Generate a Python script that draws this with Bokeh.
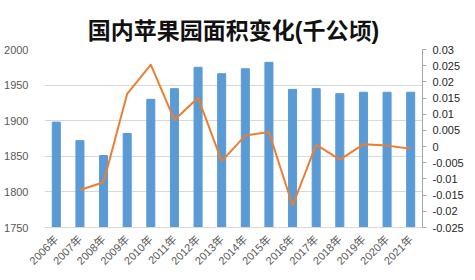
from bokeh.plotting import figure
from bokeh.models import Range1d, LinearAxis, FixedTicker, CustomJSTickFormatter, ColumnDataSource
from bokeh.embed import file_html
from bokeh.resources import INLINE
import math

years = ["2006年", "2007年", "2008年", "2009年", "2010年", "2011年", "2012年", "2013年",
         "2014年", "2015年", "2016年", "2017年", "2018年", "2019年", "2020年", "2021年"]
area = [1898, 1872, 1851, 1882, 1930, 1945, 1975, 1966, 1973, 1982, 1944, 1945, 1938, 1940, 1940, 1940]
growth_years = years[1:]
growth = [-0.0134, -0.0110, 0.0163, 0.0253, 0.0082, 0.0151, -0.0045, 0.0034, 0.0045,
          -0.0182, 0.0006, -0.0040, 0.0007, 0.0003, -0.0007]
left_ticks = [1750, 1800, 1850, 1900, 1950, 2000]
right_ticks = [-0.025, -0.02, -0.015, -0.01, -0.005, 0, 0.005, 0.01, 0.015, 0.02, 0.025, 0.03]

FONT = "Liberation Sans, Noto Sans CJK SC"
GREY = "#595959"

p = figure(width=475, height=280, x_range=years, y_range=Range1d(1750, 2000),
           output_backend="svg", toolbar_location=None,
           min_border_left=44, min_border_right=53, min_border_top=49, min_border_bottom=53)
p.title.text = "国内苹果园面积变化(千公顷)"
p.title.align = "center"
p.title.text_font = "Liberation Sans, Noto Sans CJK SC"
p.title.text_font_size = "23px"
p.title.text_font_style = "bold"
p.title.text_color = "#111111"
p.title.standoff = 12
p.outline_line_color = None

p.extra_y_ranges = {"g": Range1d(-0.025, 0.03)}

src = ColumnDataSource(dict(x=years, y=area))
p.vbar(x="x", top="y", bottom=1750, width=0.34, source=src, color="#5b9bd5")
p.line(x=growth_years, y=growth, y_range_name="g", line_color="#ed7d31", line_width=2)

p.xgrid.grid_line_color = None
p.ygrid.grid_line_color = "#d9d9d9"
p.yaxis.ticker = FixedTicker(ticks=left_ticks)
p.yaxis.axis_line_color = None
p.yaxis.major_tick_line_color = None
p.yaxis.minor_tick_line_color = None
p.yaxis.major_label_standoff = 10
p.yaxis.major_label_text_font = FONT
p.yaxis.major_label_text_font_size = "11px"
p.yaxis.major_label_text_color = GREY

p.xaxis.axis_line_color = "#d9d9d9"
p.xaxis.major_tick_line_color = None
p.xaxis.minor_tick_line_color = None
p.xaxis.major_label_orientation = math.pi / 4
p.xaxis.major_label_standoff = 4
p.xaxis.major_label_text_font = FONT
p.xaxis.major_label_text_font_size = "11px"
p.xaxis.major_label_text_color = GREY

ra = LinearAxis(y_range_name="g", ticker=FixedTicker(ticks=right_ticks),
                formatter=CustomJSTickFormatter(code="return String(parseFloat(tick.toFixed(3)));"))
ra.axis_line_color = "#a6a6a6"
ra.major_tick_line_color = "#a6a6a6"
ra.major_tick_in = 0
ra.major_tick_out = 4
ra.minor_tick_line_color = None
ra.major_label_standoff = 6
ra.major_label_text_font = FONT
ra.major_label_text_font_size = "11px"
ra.major_label_text_color = "#262626"
p.add_layout(ra, "right")

open("out.html", "w").write(file_html(p, INLINE))
